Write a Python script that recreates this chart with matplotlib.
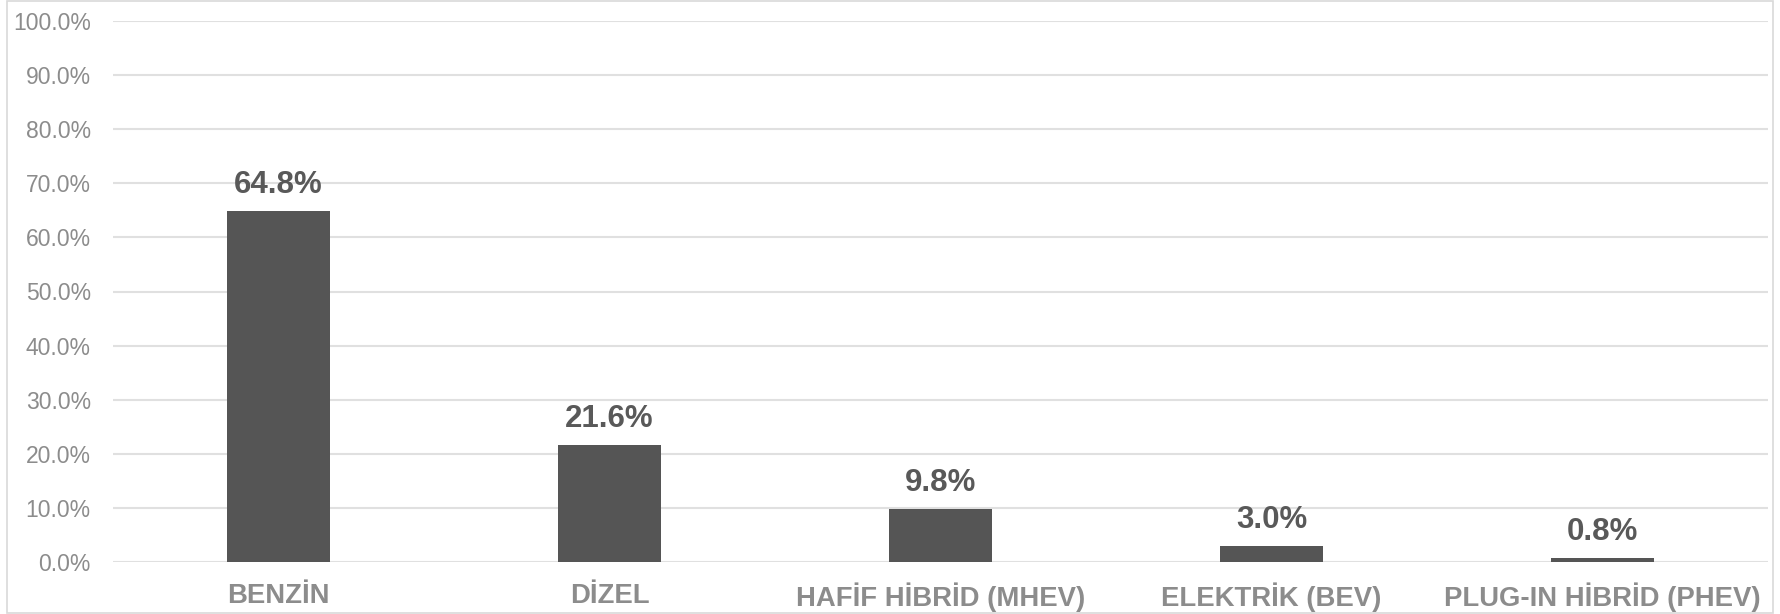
import numpy as np
import matplotlib.pyplot as plt
from matplotlib.patches import Rectangle
from matplotlib.ticker import FuncFormatter

categories = ['BENZİN', 'DİZEL', 'HAFİF HİBRİD (MHEV)', 'ELEKTRİK (BEV)', 'PLUG-IN HİBRİD (PHEV)']
shares = [64.8, 21.6, 9.8, 3.0, 0.8]
yticks = np.arange(0, 101, 10)


def main():
    plt.rcParams['font.family'] = ['Liberation Sans', 'DejaVu Sans']
    W, H = 1781, 614
    fig = plt.figure(figsize=(W / 100, H / 100), dpi=100)

    # outer chart border
    fig.patches.append(Rectangle((7 / W, 1 - 613 / H), (1773 - 7) / W, (613 - 1) / H,
                                 transform=fig.transFigure, fill=False,
                                 edgecolor='#d9d9d9', linewidth=1.2))

    ax = fig.add_axes([113 / W, 1 - 562 / H, (1768 - 113) / W, (562 - 21) / H])
    x = np.arange(len(categories))
    bars = ax.bar(x, shares, width=0.314, color='#555555', zorder=3)

    for b, v in zip(bars, shares):
        ax.annotate('%.1f%%' % v, (b.get_x() + b.get_width() / 2, v),
                    xytext=(0, 8), textcoords='offset points',
                    ha='center', va='bottom', fontsize=22.5,
                    fontweight='bold', color='#595959')

    ax.set_xlim(-0.5, len(categories) - 0.5)
    ax.set_ylim(0, 100)
    ax.set_yticks(yticks)
    ax.yaxis.set_major_formatter(FuncFormatter(lambda v, p: '%.1f%%' % v))
    ax.set_xticks(x)
    ax.set_xticklabels(categories, fontsize=19.8, fontweight='bold', color='#8c8c8c')
    ax.tick_params(axis='y', labelsize=16.5, labelcolor='#8c8c8c', length=0, pad=16)
    ax.tick_params(axis='x', length=0, pad=15)
    ax.grid(axis='y', color='#e0e0e0', linewidth=1.5, zorder=0)
    for s in ax.spines.values():
        s.set_visible(False)

    fig.savefig('out.png', dpi=100)


if __name__ == '__main__':
    main()
